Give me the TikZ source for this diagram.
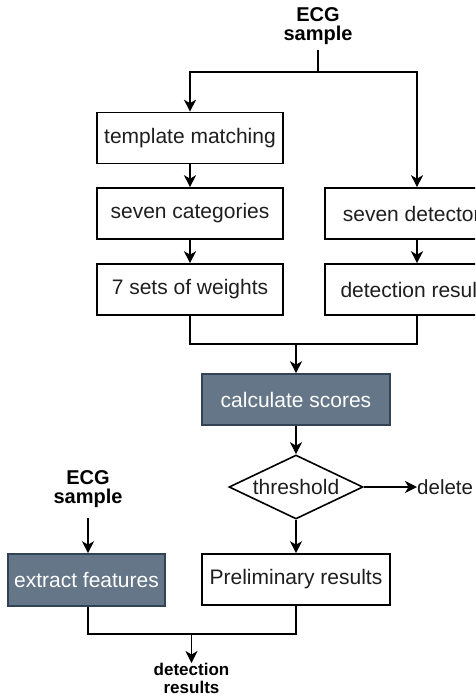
\documentclass[tikz,border=0pt]{standalone}
\usepackage{fontspec}
\setmainfont{Liberation Sans}
\usetikzlibrary{shapes.geometric,arrows.meta}
\definecolor{slatefill}{HTML}{647687}
\definecolor{slateline}{HTML}{314354}
\definecolor{ink}{HTML}{1E1E1E}
\tikzset{
  flow/.style={line width=1.6pt, draw=black, -{Stealth[length=12pt,width=12pt,inset=3.5pt]}},
  wire/.style={line width=1.6pt, draw=black},
  procbox/.style={draw=black, line width=1.6pt, fill=white, text=ink,
    minimum height=51pt, inner sep=0pt, font=\fontsize{21}{24}\selectfont},
  slatebox/.style={procbox, draw=slateline, fill=slatefill, text=white},
  decision/.style={diamond, aspect=2.1, draw=black, line width=1.6pt, fill=white,
    text=ink, inner sep=0pt, minimum width=134pt, minimum height=64pt,
    font=\fontsize{21}{24}\selectfont},
  termlabel/.style={inner sep=0pt, align=center, text=black,
    font=\bfseries\fontsize{20}{19}\selectfont},
  plainlabel/.style={inner sep=0pt, text=ink, font=\fontsize{20.5}{24}\selectfont}
}
\begin{document}
\begin{tikzpicture}[x=1pt, y=-1pt]
  \useasboundingbox (0,0) rectangle (475,696);
  \clip (0,0) rectangle (475,696);
  \fill[white] (0,0) rectangle (475,696);

  % inputs
  \node[termlabel, anchor=north] (ecgtop) at (318,7) {ECG\\sample};
  \node[termlabel, anchor=north] (ecgleft) at (88,470) {ECG\\sample};

  % left branch
  \node[procbox, minimum width=186pt] (tm) at (190,138) {template matching};
  \node[procbox, minimum width=186pt] (sc) at (190,213.5) {seven categories};
  \node[procbox, minimum width=186pt] (sw) at (190,289.5) {7 sets of weights};

  % right branch (runs past the right edge of the page)
  \node[procbox, minimum width=184pt] (sd) at (417,213.5) {seven detectors};
  \node[procbox, minimum width=184pt] (dr) at (417,289.5) {detection results};

  % scoring
  \node[slatebox, minimum width=188pt] (calc) at (296,399.5) {calculate scores};
  \node[decision] (thr) at (296,487) {threshold};
  \node[plainlabel, anchor=west] (del) at (417,487) {delete};
  \node[procbox, minimum width=188pt] (prelim) at (296,579.5) {Preliminary results};
  \node[slatebox, minimum width=157pt, minimum height=52pt] (ef) at (86.5,580) {extract features};

  % output
  \node[inner sep=0pt, align=center, anchor=north,
        font=\bfseries\fontsize{17}{17.5}\selectfont] (out) at (191.5,663) {detection\\results};

  % junctions
  \coordinate (j0) at (318,72);
  \coordinate (j1) at (296,344);
  \coordinate (j2) at (191.5,634);

  % connectors
  \draw[wire, shorten <=5pt] (ecgtop.south) -- (j0);
  \draw[flow] (j0) -| (tm.north);
  \draw[flow] (j0) -| (sd.north);
  \draw[flow] (tm) -- (sc);
  \draw[flow] (sc) -- (sw);
  \draw[flow] (sd) -- (dr);
  \draw[wire] (sw.south) |- (j1) -| (dr.south);
  \draw[flow] (j1) -- (calc.north);
  \draw[flow] (calc) -- (thr);
  \draw[flow] (thr.east) -- (del.west);
  \draw[flow] (thr.south) -- (prelim.north);
  \draw[flow, shorten <=10pt] (ecgleft.south) -- (ef.north -| ecgleft.south);
  \draw[wire] (ef.south -| ecgleft.south) |- (j2) -| (prelim.south);
  \draw[flow] (j2) -- (out.north);
\end{tikzpicture}
\end{document}
